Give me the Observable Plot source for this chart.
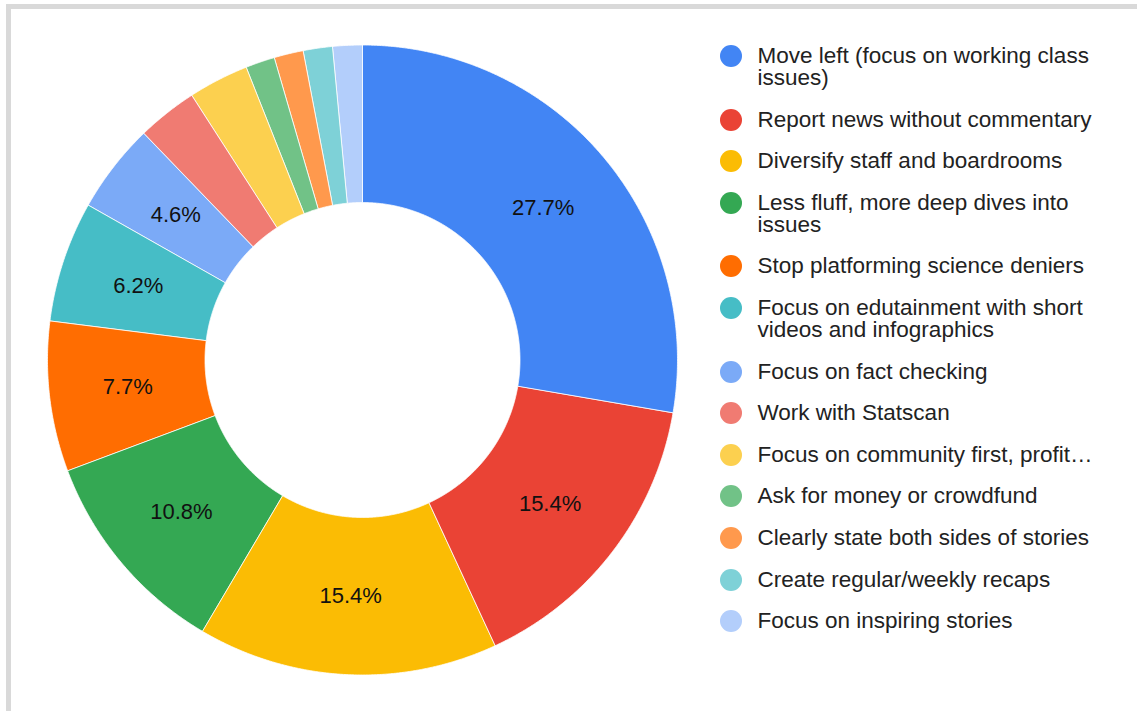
<!DOCTYPE html>
<html>
<head>
<meta charset="utf-8">
<script src="https://cdn.jsdelivr.net/npm/d3@7"></script>
<script src="https://cdn.jsdelivr.net/npm/@observablehq/plot@0.6"></script>
<style>
  html, body { margin: 0; padding: 0; background: #fff; }
  body { width: 1137px; height: 711px; position: relative; overflow: hidden;
         font-family: "Liberation Sans", Arial, sans-serif; }
  #frame { position: absolute; left: 6px; top: 4px; width: 1200px; height: 702px;
           border-top: 5px solid #d9d9d9; border-left: 5px solid #d9d9d9; border-bottom: 2px solid #d9d9d9;
           pointer-events: none; }
  #chart { position: absolute; left: 0; top: 0; }
  #legend { position: absolute; left: 720px; top: 45px; width: 400px; }
  .item { display: flex; align-items: flex-start; margin-bottom: 19.6px; }
  .dot { width: 22px; height: 22px; border-radius: 50%; flex: 0 0 22px; }
  .lbl { margin-left: 15.5px; font-size: 22.5px; line-height: 22px; color: #222; width: 352px; }
</style>
</head>
<body>
<div id="chart"></div>
<div id="legend"></div>
<div id="frame"></div>
<script>
const categories = [
  "Move left (focus on working class issues)",
  "Report news without commentary",
  "Diversify staff and boardrooms",
  "Less fluff, more deep dives into issues",
  "Stop platforming science deniers",
  "Focus on edutainment with short videos and infographics",
  "Focus on fact checking",
  "Work with Statscan",
  "Focus on community first, profit…",
  "Ask for money or crowdfund",
  "Clearly state both sides of stories",
  "Create regular/weekly recaps",
  "Focus on inspiring stories"
];
const percents = [27.7, 15.4, 15.4, 10.8, 7.7, 6.2, 4.6, 3.1, 3.1, 1.5, 1.5, 1.5, 1.5];
const colors = ["#4285f4", "#ea4335", "#fbbc04", "#34a853", "#ff6d01", "#46bdc6",
                "#7baaf7", "#f07b72", "#fcd04f", "#71c287", "#ff994d", "#7ed1d7", "#b3cefb"];

const rOuter = 1, rInner = 0.5;
const pie = d3.pie().sort(null).value(d => d.value);
const arcs = pie(categories.map((c, i) => ({category: c, value: percents[i]})));

// slice outlines (geometry of each arc, derived from the data angles)
const ring = [];
arcs.forEach(a => {
  const n = Math.max(4, Math.ceil((a.endAngle - a.startAngle) / 0.005));
  for (let k = 0; k <= n; k++) {
    const t = a.startAngle + (a.endAngle - a.startAngle) * k / n;
    ring.push({category: a.data.category, x: rOuter * Math.sin(t), y: rOuter * Math.cos(t)});
  }
  for (let k = n; k >= 0; k--) {
    const t = a.startAngle + (a.endAngle - a.startAngle) * k / n;
    ring.push({category: a.data.category, x: rInner * Math.sin(t), y: rInner * Math.cos(t)});
  }
});

const labels = arcs.filter(a => a.data.value >= 4).map(a => {
  const m = (a.startAngle + a.endAngle) / 2, r = (rOuter + rInner) / 2;
  return {x: r * Math.sin(m), y: r * Math.cos(m), text: a.data.value.toFixed(1) + "%"};
});

const plot = Plot.plot({
  width: 700, height: 711,
  marginLeft: 47, marginRight: 23, marginTop: 44.5, marginBottom: 36.5,
  x: {domain: [-1, 1], axis: null},
  y: {domain: [-1, 1], axis: null},
  color: {domain: categories, range: colors},
  style: {fontFamily: "'Liberation Sans', Arial, sans-serif", background: "transparent"},
  marks: [
    Plot.line(ring, {x: "x", y: "y", z: "category", fill: "category", stroke: "#ffffff",
                     strokeWidth: 0.8, curve: "linear-closed"}),
    Plot.text(labels, {x: "x", y: "y", text: "text", fontSize: 22, fill: "#111"})
  ]
});
document.getElementById("chart").appendChild(plot);

const legend = document.getElementById("legend");
categories.forEach((c, i) => {
  const it = document.createElement("div");
  it.className = "item";
  const d = document.createElement("div");
  d.className = "dot";
  d.style.background = colors[i];
  const t = document.createElement("div");
  t.className = "lbl";
  t.textContent = c;
  it.appendChild(d); it.appendChild(t);
  legend.appendChild(it);
});
</script>
</body>
</html>
